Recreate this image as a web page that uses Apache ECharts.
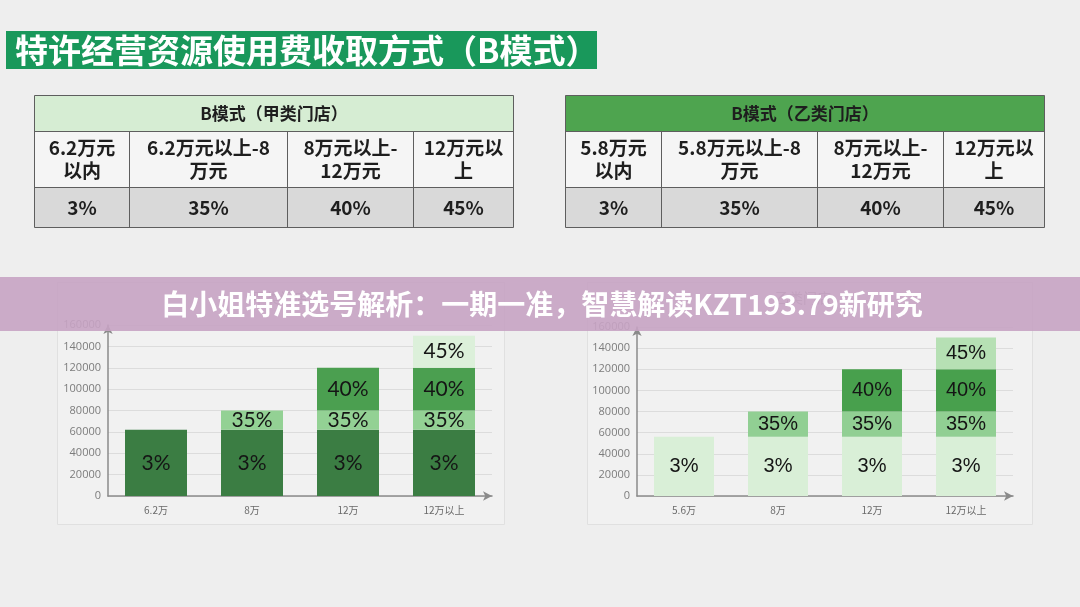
<!DOCTYPE html>
<html><head><meta charset="utf-8">
<script src="https://cdn.jsdelivr.net/npm/echarts@6/dist/echarts.min.js"></script>
<style>html,body{margin:0;padding:0;background:#eeeeee}#c{width:1080px;height:607px}</style>
</head><body><div id="c"></div>
<script>
// ---- data ----
const pageTitle = '特许经营资源使用费收取方式（B模式）';
const bannerText = '白小姐特准选号解析：一期一准，智慧解读KZT193.79新研究';
const tableAHeader = 'B模式（甲类门店）';
const tableARanges = ['6.2万元\n以内', '6.2万元以上-8\n万元', '8万元以上-\n12万元', '12万元以\n上'];
const tableBHeader = 'B模式（乙类门店）';
const tableBRanges = ['5.8万元\n以内', '5.8万元以上-8\n万元', '8万元以上-\n12万元', '12万元以\n上'];
const rates = ['3%', '35%', '40%', '45%'];
const chartATitle = '甲类门店';
const chartBTitle = '乙类门店';
const chartACategories = ['6.2万', '8万', '12万', '12万以上'];
const chartBCategories = ['5.6万', '8万', '12万', '12万以上'];
const chartASeg1 = [62000, 62000, 62000, 62000];
const chartASeg2 = ['-', 18000, 18000, 18000];
const chartASeg3 = ['-', '-', 40000, 40000];
const chartASeg4 = ['-', '-', '-', 30000];
const chartBSeg1 = [56000, 56000, 56000, 56000];
const chartBSeg2 = ['-', 24000, 24000, 24000];
const chartBSeg3 = ['-', '-', 40000, 40000];
const chartBSeg4 = ['-', '-', '-', 30000];
const yMin = 0, yMax = 160000, yStep = 20000;

// ---- graphics ----
const CJK = '"Noto Sans CJK SC", "Noto Sans", sans-serif';
const g = [];
function rect(x, y, w, h, fill, z, stroke) {
  return { type: 'rect', z: z || 1, shape: { x: x, y: y, width: w, height: h },
    style: { fill: fill, stroke: stroke || null, lineWidth: stroke ? 1 : 0 } };
}
function line(x1, y1, x2, y2, color) {
  return { type: 'line', z: 3, shape: { x1: x1, y1: y1, x2: x2, y2: y2 },
    style: { stroke: color || '#5e5e5e', lineWidth: 1 } };
}
function txt(x, y, s, font, fill, z, lh) {
  return { type: 'text', z: z || 4, x: x, y: y,
    style: { text: s, font: font, fill: fill, align: 'center', verticalAlign: 'middle',
      textAlign: 'center', textVerticalAlign: 'middle', lineHeight: lh || undefined } };
}
// page title bar
g.push(rect(6, 31, 591, 38, '#19985b', 1));
g.push({ type: 'text', z: 4, x: 15, y: 50, style: { text: pageTitle, font: 'bold 33px ' + CJK, fill: '#ffffff',
  verticalAlign: 'middle', textVerticalAlign: 'middle' } });

function addTable(cols, header, headFill, ranges) {
  const rows = [95.5, 131.5, 187.5, 227.5];
  const x0 = cols[0], x1 = cols[cols.length - 1];
  g.push(rect(x0, rows[0], x1 - x0, rows[1] - rows[0], headFill, 2));
  g.push(rect(x0, rows[1], x1 - x0, rows[2] - rows[1], '#f5f5f5', 2));
  g.push(rect(x0, rows[2], x1 - x0, rows[3] - rows[2], '#d9d9d9', 2));
  rows.forEach(function (y) { g.push(line(x0, y, x1, y)); });
  cols.forEach(function (x, i) {
    const top = (i === 0 || i === cols.length - 1) ? rows[0] : rows[1];
    g.push(line(x, top, x, rows[3]));
  });
  g.push(txt((x0 + x1) / 2, (rows[0] + rows[1]) / 2, header, 'bold 17px ' + CJK, '#1e1e1e'));
  for (let i = 0; i < ranges.length; i++) {
    const cx = (cols[i] + cols[i + 1]) / 2;
    g.push(txt(cx, (rows[1] + rows[2]) / 2, ranges[i], 'bold 19px ' + CJK, '#1e1e1e', 4, 23));
    g.push(txt(cx, (rows[2] + rows[3]) / 2, rates[i], 'bold 19px ' + CJK, '#1e1e1e'));
  }
}
addTable([34.5, 129.5, 287.5, 413.5, 513.5], tableAHeader, '#d6edd3', tableARanges);
addTable([565.5, 661.5, 817.5, 943.5, 1044.5], tableBHeader, '#4ea44f', tableBRanges);

// chart panels
g.push(rect(57.5, 282.5, 447, 242, '#f1f1f1', -1, '#e0e0e0'));
g.push(rect(587.5, 282.5, 445, 242, '#f1f1f1', -1, '#e0e0e0'));
g.push(txt(280, 298, chartATitle, '14px ' + CJK, '#9a9a9a', 5));
g.push(txt(803, 298, chartBTitle, '14px ' + CJK, '#9a9a9a', 5));

// banner
g.push(rect(0, 277, 1080, 54, 'rgba(199,163,195,0.9)', 100));
g.push(txt(542, 304, bannerText, 'bold 28px ' + CJK, '#ffffff', 101));

// ---- charts ----
function yAxis(gi) {
  return { type: 'value', gridIndex: gi, min: yMin, max: yMax, interval: yStep,
    axisLine: { show: true, symbol: ['none', 'arrow'], symbolSize: [7, 9], lineStyle: { color: '#8a8a8a', width: 1.5 } },
    axisTick: { show: false },
    axisLabel: { color: '#7c7c7c', fontSize: 11, margin: 7, fontFamily: '"Open Sans", sans-serif',
      formatter: function (v) { return String(v); } },
    splitLine: { lineStyle: { color: '#dcdcdc' } } };
}
function xAxis(gi, cats) {
  return { type: 'category', gridIndex: gi, data: cats,
    axisLine: { show: true, symbol: ['none', 'arrow'], symbolSize: [7, 9], lineStyle: { color: '#8a8a8a', width: 1.5 } },
    axisTick: { show: false },
    axisLabel: { color: '#6a6a6a', fontSize: 10, margin: 9, fontFamily: CJK } };
}
function bar(gi, stack, data, color, rateIdx, fontFamily, width, fs) {
  return { type: 'bar', xAxisIndex: gi, yAxisIndex: gi, stack: stack, data: data, barWidth: width,
    itemStyle: { color: color },
    label: { show: true, position: 'inside', formatter: function () { return rates[rateIdx]; },
      color: '#151515', fontSize: fs, fontFamily: fontFamily } };
}
const fa = 'Lato, "Open Sans", sans-serif';
const fb = '"Liberation Sans", Arial, sans-serif';
const option = {
  backgroundColor: 'transparent',
  animation: false,
  graphic: { elements: g },
  grid: [
    { left: 108, right: 1080 - 492, top: 325, bottom: 607 - 496 },
    { left: 637, right: 1080 - 1013, top: 327, bottom: 607 - 496 }
  ],
  xAxis: [xAxis(0, chartACategories), xAxis(1, chartBCategories)],
  yAxis: [yAxis(0), yAxis(1)],
  series: [
    bar(0, 'a', chartASeg1, '#3b7d43', 0, fa, 62, 21),
    bar(0, 'a', chartASeg2, '#93d194', 1, fa, 62, 21),
    bar(0, 'a', chartASeg3, '#4b9f50', 2, fa, 62, 21),
    bar(0, 'a', chartASeg4, '#dcf0da', 3, fa, 62, 21),
    bar(1, 'b', chartBSeg1, '#d9efd7', 0, fb, 60, 20),
    bar(1, 'b', chartBSeg2, '#91cf93', 1, fb, 60, 20),
    bar(1, 'b', chartBSeg3, '#48a04d', 2, fb, 60, 20),
    bar(1, 'b', chartBSeg4, '#b6e0b4', 3, fb, 60, 20)
  ]
};
const chart = echarts.init(document.getElementById('c'), null, { renderer: 'canvas' });
chart.setOption(option);
</script>
</body></html>
